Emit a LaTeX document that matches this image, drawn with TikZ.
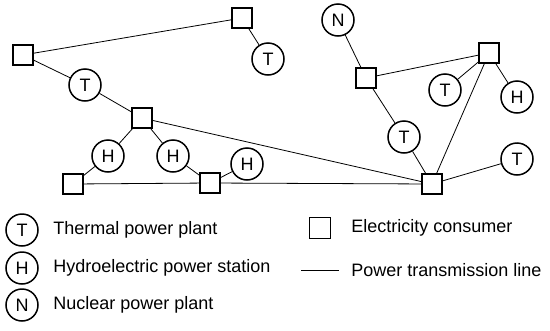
\documentclass[tikz,border=0pt]{standalone}
\usepackage{fontspec}
\setmainfont{Liberation Sans}
\begin{document}
\begin{tikzpicture}[
  x=1pt, y=-1pt,
  font=\fontsize{18}{20}\selectfont,
  line width=0.8pt,
  plant/.style={circle,draw,line width=1.5pt,minimum size=32pt,inner sep=0pt},
  user/.style={rectangle,draw,line width=1.8pt,minimum size=20pt,inner sep=0pt},
  lbl/.style={anchor=west,inner sep=0pt},
]
  \useasboundingbox (0,0) rectangle (550,330);

  % Left: western grid
  \node[user] (Ua) at (23,55) {};
  \node[user] (Ub) at (242,18) {};
  \node[user] (Uc) at (142,118) {};
  \node[user] (Ud) at (73,184) {};
  \node[user] (Ue) at (210,183) {};
  \node[plant] (Ta) at (268,59) {T};
  \node[plant] (Tb) at (85,85) {T};
  \node[plant] (Ha) at (108,156) {H};
  \node[plant] (Hb) at (173,156) {H};
  \node[plant] (Hc) at (247,164) {H};

  % Right: eastern grid
  \node[plant] (Na) at (338,20) {N};
  \node[user] (Uf) at (366,78) {};
  \node[user] (Ug) at (489,53) {};
  \node[user] (Uk) at (432,184) {};
  \node[plant] (Tc) at (445,90) {T};
  \node[plant] (Hd) at (517,97) {H};
  \node[plant] (Td) at (404,137) {T};
  \node[plant] (Te) at (517,159) {T};

  \draw (Ua) -- (Ub) -- (Ta);
  \draw (Ua) -- (Tb) -- (Uc);
  \draw (Uc) -- (Ha) -- (Ud);
  \draw (Uc) -- (Hb) -- (Ue);
  \draw (Ue) -- (Hc);
  \draw (Ud) -- (Ue) -- (Uk);
  \draw (Uc) -- (Uk);

  \draw (Na) -- (Uf) -- (Ug);
  \draw (Ug) -- (Tc);
  \draw (Ug) -- (Hd);
  \draw (Uf) -- (Td) -- (Uk);
  \draw (Ug) -- (Uk) -- (Te);

  % legend
  \node[plant] (Lt) at (22,230) {T};
  \node[plant] (Lh) at (22,268) {H};
  \node[plant] (Ln) at (22,305) {N};
  \node[lbl] (Ltx) at (53,230) {Thermal power plant};
  \node[lbl] (Lhx) at (53,268) {Hydroelectric power station};
  \node[lbl] (Lnx) at (53,305) {Nuclear power plant};

  \node[user,minimum size=21pt] (Lu) at (320,228) {};
  \node[lbl] (Lux) at (351,228) {Electricity consumer};
  \coordinate (La) at (301,270);
  \coordinate (Lb) at (339,270);
  \draw (La) -- (Lb);
  \node[lbl] (Lbx) at (351,270) {Power transmission line};
\end{tikzpicture}
\end{document}
